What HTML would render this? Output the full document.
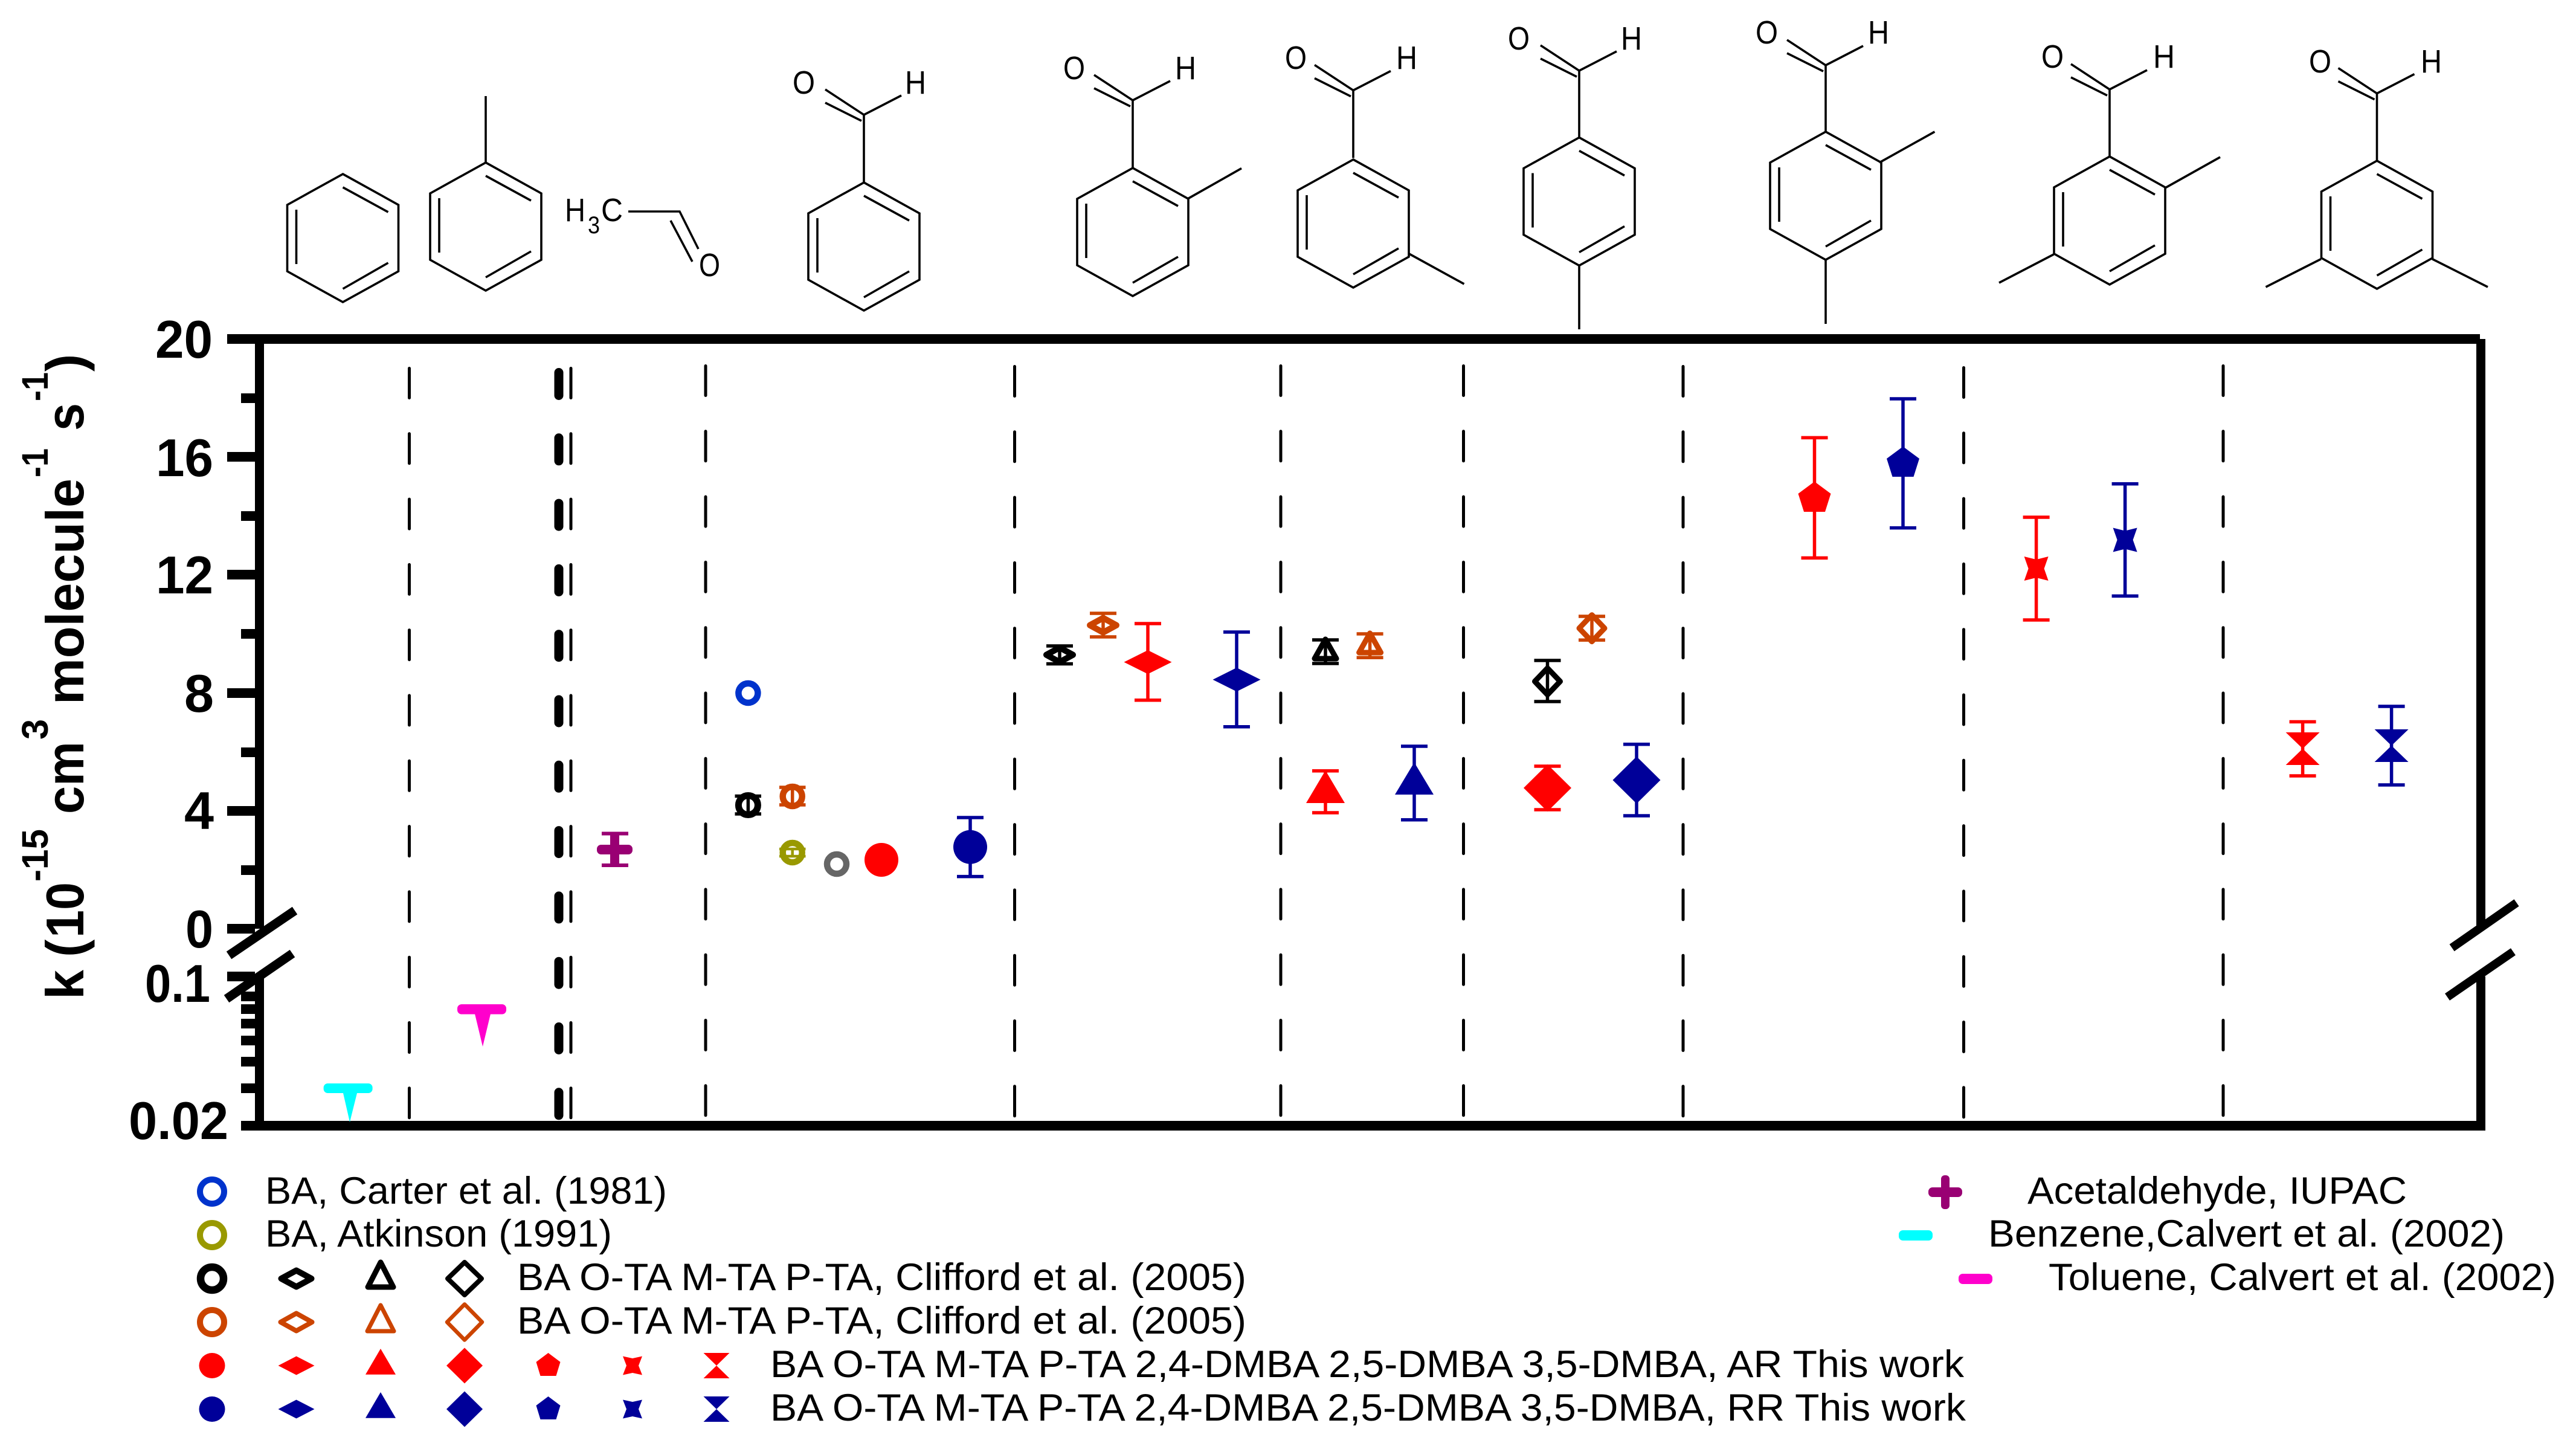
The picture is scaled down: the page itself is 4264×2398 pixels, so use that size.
<!DOCTYPE html>
<html><head><meta charset="utf-8"><title>Rate constants</title>
<style>
html,body{margin:0;padding:0;background:#fff}
svg{display:block}
text{font-family:"Liberation Sans",Arial,sans-serif;fill:#000}
.b{font-weight:bold;font-size:88px}
.s{font-weight:bold;font-size:61px}
.l{font-size:63px}
.a{font-size:54px}
.m{fill:none;stroke:#000;stroke-width:3.6}
.d{stroke:#000;stroke-width:5;stroke-dasharray:49 59.3;stroke-linecap:round}
.eb{fill:none;stroke-width:5.5}
</style></head><body>
<svg xmlns="http://www.w3.org/2000/svg" width="4264" height="2398" viewBox="0 0 4264 2398">
<defs>
<g id="ring" class="m"><path d="M0 0L92 51V161L0 212L-92 161V51Z"/><path d="M0 22L75 63M-77 59V149M0 190L75 147"/></g>
<g id="cho" class="m"><path d="M0 0V112M-64 -42L0 0M-64 -20L-4 10M0 0L62 -32"/></g>
<polygon id="star" points="-20,-20 0,-15 20,-20 13,0 20,20 0,15 -20,20 -13,0"/>
<polygon id="hour" points="-28,-27 28,-27 0,0 28,27 -28,27 0,0"/>
<polygon id="pent" points="0,-25 27,-5 17.5,25 -17.5,25 -27,-5"/>
<g id="filledrow">
<ellipse cx="351" cy="0" rx="21.5" ry="21"/>
<polygon points="460.5,0 490.5,-15.5 520.5,0 490.5,15.5"/>
<polygon points="630,-28 655,14.7 605,14.7"/>
<polygon points="739,0 769,-29.5 799,0 769,29.5"/>
<polygon points="907.5,-21 927.5,-6 920.5,17 894.5,17 887.5,-6"/>
<polygon points="1031,-15.5 1047,-12 1063,-15.5 1057,0 1063,15.5 1047,12 1031,15.5 1037,0"/>
<polygon points="1164.5,-21 1207.5,-21 1186,0 1207.5,21 1164.5,21 1186,0"/>
</g>
</defs>

<!-- molecules -->
<use href="#ring" x="567.5" y="288"/>
<use href="#ring" x="804" y="269"/><path class="m" d="M804 269V159"/>
<text class="a" x="935" y="366" textLength="34" lengthAdjust="spacingAndGlyphs">H</text>
<text x="973" y="386" font-size="40" textLength="20" lengthAdjust="spacingAndGlyphs">3</text>
<text class="a" x="995" y="366" textLength="36" lengthAdjust="spacingAndGlyphs">C</text>
<path class="m" d="M1040 350H1125L1156 412M1110 365L1146 433"/>
<text class="a" x="1157" y="457" textLength="35" lengthAdjust="spacingAndGlyphs">O</text>

<use href="#cho" x="1430" y="190"/><use href="#ring" x="1430" y="302"/>
<text class="a" x="1312" y="155" textLength="37" lengthAdjust="spacingAndGlyphs">O</text>
<text class="a" x="1498" y="155" textLength="35" lengthAdjust="spacingAndGlyphs">H</text>

<use href="#cho" x="1875" y="166"/><use href="#ring" x="1875" y="278"/>
<path class="m" d="M1966 329L2055 278.6"/>
<text class="a" x="1760" y="131" textLength="36" lengthAdjust="spacingAndGlyphs">O</text>
<text class="a" x="1945" y="131" textLength="35" lengthAdjust="spacingAndGlyphs">H</text>

<use href="#cho" x="2240" y="149.5"/><use href="#ring" x="2240" y="264"/>
<path class="m" d="M2332.5 420L2423.5 470"/>
<text class="a" x="2127" y="114" textLength="36" lengthAdjust="spacingAndGlyphs">O</text>
<text class="a" x="2311" y="114" textLength="35" lengthAdjust="spacingAndGlyphs">H</text>

<use href="#cho" x="2614" y="117"/><use href="#ring" x="2614" y="227.5"/>
<path class="m" d="M2614 439V545"/>
<text class="a" x="2496" y="82" textLength="36" lengthAdjust="spacingAndGlyphs">O</text>
<text class="a" x="2683" y="82" textLength="35" lengthAdjust="spacingAndGlyphs">H</text>

<use href="#cho" x="3022" y="108"/><use href="#ring" x="3022" y="218"/>
<path class="m" d="M3111 269L3202.4 218M3022 428.6V536"/>
<text class="a" x="2906" y="72" textLength="37" lengthAdjust="spacingAndGlyphs">O</text>
<text class="a" x="3092" y="72" textLength="35" lengthAdjust="spacingAndGlyphs">H</text>

<use href="#cho" x="3492" y="148"/><use href="#ring" x="3492" y="259"/>
<path class="m" d="M3584 311L3675 260M3399.4 421L3309 468"/>
<text class="a" x="3379" y="112" textLength="37" lengthAdjust="spacingAndGlyphs">O</text>
<text class="a" x="3564" y="112" textLength="36" lengthAdjust="spacingAndGlyphs">H</text>

<use href="#cho" x="3934.5" y="154.6"/><use href="#ring" x="3934.5" y="266"/>
<path class="m" d="M4026 428.6L4118 475M3842 428.6L3750.5 475"/>
<text class="a" x="3822" y="120" textLength="37" lengthAdjust="spacingAndGlyphs">O</text>
<text class="a" x="4007" y="120" textLength="35" lengthAdjust="spacingAndGlyphs">H</text>

<!-- dashed separators -->
<g fill="none">
<path class="d" d="M677.5 609.5V1860"/>
<path class="d" style="stroke-width:15;stroke-dasharray:38 70.3" d="M925 616.5V1860"/>
<path class="d" d="M945 609.5V1860"/>
<path class="d" d="M1168 605.5V1860"/>
<path class="d" d="M1679.5 606.5V1860"/>
<path class="d" d="M2120 605.5V1860"/>
<path class="d" d="M2422.5 605.5V1860"/>
<path class="d" d="M2786 606.5V1860"/>
<path class="d" d="M3250.5 608.5V1860"/>
<path class="d" d="M3680 605.5V1860"/>
</g>

<!-- frame -->
<rect x="376" y="553" width="3729" height="16"/>
<rect x="399" y="1855" width="3706" height="16"/>
<rect x="422" y="561" width="15" height="976"/>
<rect x="422" y="1616" width="15" height="255"/>
<rect x="4099" y="561" width="15" height="972"/>
<rect x="4099" y="1616" width="15" height="255"/>
<!-- ticks -->
<g>
<rect x="376" y="748" width="46" height="16"/>
<rect x="376" y="943" width="46" height="16"/>
<rect x="376" y="1139" width="46" height="16"/>
<rect x="376" y="1334" width="46" height="16"/>
<rect x="376" y="1529" width="46" height="16"/>
<rect x="376" y="1608" width="46" height="16"/>
<rect x="399" y="651" width="23" height="16"/>
<rect x="399" y="846" width="23" height="16"/>
<rect x="399" y="1041" width="23" height="16"/>
<rect x="399" y="1237" width="23" height="16"/>
<rect x="399" y="1432" width="23" height="16"/>
<rect x="399" y="1641" width="23" height="16"/>
<rect x="399" y="1662" width="23" height="16"/>
<rect x="399" y="1686" width="23" height="16"/>
<rect x="399" y="1714" width="23" height="16"/>
<rect x="399" y="1749" width="23" height="16"/>
<rect x="399" y="1793" width="23" height="16"/>
</g>
<!-- breaks -->
<path d="M379 1581L488 1507M375 1653L484 1578" stroke="#000" stroke-width="15" fill="none"/>
<path d="M4058.6 1568.5L4165.6 1494M4051 1650L4160 1575" stroke="#000" stroke-width="14" fill="none"/>

<!-- tick labels -->
<g class="b">
<text class="b" x="257" y="592" textLength="95" lengthAdjust="spacingAndGlyphs">20</text>
<text class="b" x="258" y="788" textLength="95" lengthAdjust="spacingAndGlyphs">16</text>
<text class="b" x="258" y="982" textLength="95" lengthAdjust="spacingAndGlyphs">12</text>
<text class="b" x="305" y="1178" textLength="49" lengthAdjust="spacingAndGlyphs">8</text>
<text class="b" x="305" y="1372" textLength="49" lengthAdjust="spacingAndGlyphs">4</text>
<text class="b" x="307" y="1568" textLength="46" lengthAdjust="spacingAndGlyphs">0</text>
<text class="b" x="240" y="1658" textLength="108" lengthAdjust="spacingAndGlyphs">0.1</text>
<text class="b" x="213" y="1885" textLength="165" lengthAdjust="spacingAndGlyphs">0.02</text>
</g>

<!-- y title -->
<g transform="translate(138 1650) rotate(-90)">
<text class="b" x="-4" y="0">k</text>
<text class="b" x="66" y="0">(</text>
<text class="b" x="98" y="0" textLength="92" lengthAdjust="spacingAndGlyphs">10</text>
<text class="s" x="191" y="-59" textLength="87" lengthAdjust="spacingAndGlyphs">-15</text>
<text class="b" x="303" y="0" textLength="120" lengthAdjust="spacingAndGlyphs">cm</text>
<text class="s" x="426" y="-59" textLength="34" lengthAdjust="spacingAndGlyphs">3</text>
<text class="b" x="484" y="0" textLength="374" lengthAdjust="spacingAndGlyphs">molecule</text>
<text class="s" x="860" y="-59" textLength="48" lengthAdjust="spacingAndGlyphs">-1</text>
<text class="b" x="937" y="0" textLength="46" lengthAdjust="spacingAndGlyphs">s</text>
<text class="s" x="986" y="-59" textLength="48" lengthAdjust="spacingAndGlyphs">-1</text>
<text class="b" x="1035" y="0">)</text>
</g>

<!-- benzene / toluene -->
<g fill="#00ffff"><rect x="535.6" y="1793" width="81" height="16" rx="7"/><polygon points="568,1809 591,1809 579,1857"/></g>
<g fill="#ff00cc"><rect x="757" y="1662" width="81" height="16.5" rx="7"/><polygon points="786,1678 812,1678 799,1732"/></g>
<!-- acetaldehyde -->
<g fill="#990073">
<rect x="988" y="1398" width="59" height="16" rx="7"/>
<rect x="1010" y="1379" width="15" height="53"/>
<rect x="996" y="1376.5" width="44" height="6"/><rect x="996" y="1429" width="44" height="6"/>
</g>

<!-- BA -->
<circle cx="1238.4" cy="1147" r="16" fill="none" stroke="#0033cc" stroke-width="10.5"/>
<g stroke="#000"><circle cx="1238.4" cy="1332.5" r="16" fill="none" stroke-width="11"/><path class="eb" d="M1216.5 1317.5H1260M1216.5 1347H1260M1238.4 1317.5V1347"/></g>
<g stroke="#cc4400"><circle cx="1311.7" cy="1318" r="16" fill="none" stroke-width="10.5"/><path class="eb" d="M1290 1303H1333.5M1290 1332H1333.5M1311.7 1303V1332"/></g>
<g stroke="#999900"><circle cx="1311.7" cy="1411" r="16" fill="none" stroke-width="10.5"/><path class="eb" style="stroke-width:4.5" d="M1290 1405H1333.5M1290 1417H1333.5M1311.7 1405V1417"/></g>
<circle cx="1385" cy="1430" r="16" fill="none" stroke="#666666" stroke-width="10.5"/>
<circle cx="1459" cy="1423" r="28" fill="#ff0000"/>
<g fill="#000099" stroke="#000099"><path class="eb" d="M1584 1353H1628M1584 1450.6H1628M1606 1353V1450.6"/><circle cx="1606" cy="1401.7" r="28" stroke="none"/></g>

<!-- O-TA -->
<g stroke="#000"><path d="M1732 1083.7L1754 1071.7L1776 1083.7L1754 1095.7Z" fill="none" stroke-width="10" stroke-linejoin="round"/><path class="eb" d="M1732 1069H1776M1732 1098.6H1776M1754 1069V1098.6"/></g>
<g stroke="#cc4400"><path d="M1804 1034.7L1826 1022.7L1848 1034.7L1826 1046.7Z" fill="none" stroke-width="10" stroke-linejoin="round"/><path class="eb" d="M1804 1015H1848M1804 1054H1848M1826 1015V1054"/></g>
<g stroke="#ff0000" fill="#ff0000"><path class="eb" d="M1878 1032H1922M1878 1158.7H1922M1900 1032V1158.7"/><polygon stroke="none" points="1860.5,1095.7 1900,1076 1939.5,1095.7 1900,1115.5"/></g>
<g stroke="#000099" fill="#000099"><path class="eb" d="M2025 1046H2069M2025 1202.7H2069M2047 1046V1202.7"/><polygon stroke="none" points="2007.5,1124.7 2047,1105 2086.5,1124.7 2047,1144.5"/></g>

<!-- M-TA -->
<g stroke="#000"><path d="M2194 1058L2212 1090H2176Z" fill="none" stroke-width="9" stroke-linejoin="round"/><path class="eb" d="M2172 1059H2216M2172 1098H2216M2194 1059V1098"/></g>
<g stroke="#cc4400"><path d="M2267.6 1048L2285.6 1080H2249.6Z" fill="none" stroke-width="9" stroke-linejoin="round"/><path class="eb" d="M2245.6 1049H2289.6M2245.6 1088.3H2289.6M2267.6 1049V1088.3"/></g>
<g stroke="#ff0000" fill="#ff0000"><path class="eb" d="M2172 1275.7H2216M2172 1345H2216M2194 1275.7V1345"/><polygon stroke="none" points="2194,1275 2226,1329 2162,1329"/></g>
<g stroke="#000099" fill="#000099"><path class="eb" d="M2319 1235H2363M2319 1356.7H2363M2341 1235V1356.7"/><polygon stroke="none" points="2341,1261.7 2373,1315 2309,1315"/></g>

<!-- P-TA -->
<g stroke="#000"><path d="M2561.5 1105.7L2582.5 1127.7L2561.5 1149.7L2540.5 1127.7Z" fill="none" stroke-width="9" stroke-linejoin="round"/><path class="eb" d="M2539.5 1093H2583.5M2539.5 1161H2583.5M2561.5 1093V1161"/></g>
<g stroke="#cc4400"><path d="M2635 1017.7L2656 1039.7L2635 1061.7L2614 1039.7Z" fill="none" stroke-width="9" stroke-linejoin="round"/><path class="eb" d="M2613 1020H2657M2613 1059.3H2657M2635 1020V1059.3"/></g>
<g stroke="#ff0000" fill="#ff0000"><path class="eb" d="M2539.5 1268H2583.5M2539.5 1340H2583.5M2561.5 1268V1340"/><polygon stroke="none" points="2522,1304 2561.5,1265 2601,1304 2561.5,1343"/></g>
<g stroke="#000099" fill="#000099"><path class="eb" d="M2687 1231.7H2731M2687 1350H2731M2709 1231.7V1350"/><polygon stroke="none" points="2669.5,1291 2709,1252 2748.5,1291 2709,1330"/></g>

<!-- 2,4-DMBA -->
<g stroke="#ff0000" fill="#ff0000"><path class="eb" d="M2981.5 724.4H3025.5M2981.5 923.4H3025.5M3003.5 724.4V923.4"/><use href="#pent" x="3003.5" y="822" stroke="none"/></g>
<g stroke="#000099" fill="#000099"><path class="eb" d="M3128 660H3172M3128 873.6H3172M3150 660V873.6"/><use href="#pent" x="3150" y="764" stroke="none"/></g>
<!-- 2,5-DMBA -->
<g stroke="#ff0000" fill="#ff0000"><path class="eb" d="M3348.6 856H3392.6M3348.6 1026H3392.6M3370.6 856V1026"/><use href="#star" x="3370.6" y="941" stroke="none"/></g>
<g stroke="#000099" fill="#000099"><path class="eb" d="M3495.6 800.7H3539.6M3495.6 986.4H3539.6M3517.6 800.7V986.4"/><use href="#star" x="3517.6" y="893.5" stroke="none"/></g>
<!-- 3,5-DMBA -->
<g stroke="#ff0000" fill="#ff0000"><path class="eb" d="M3789.6 1194.5H3833.6M3789.6 1284H3833.6M3811.6 1194.5V1284"/><use href="#hour" x="3811.6" y="1239" stroke="none"/></g>
<g stroke="#000099" fill="#000099"><path class="eb" d="M3936.6 1169H3980.6M3936.6 1299H3980.6M3958.6 1169V1299"/><use href="#hour" x="3958.6" y="1234" stroke="none"/></g>

<!-- legend markers -->
<circle cx="351" cy="1972" r="20" fill="none" stroke="#0033cc" stroke-width="10"/>
<circle cx="351" cy="2044" r="20" fill="none" stroke="#999900" stroke-width="10"/>

<g fill="none" stroke="#000" stroke-linejoin="round" transform="translate(0 2116)">
<circle cx="351" cy="0" r="19" stroke-width="12.5"/>
<path d="M465.5 0L490.5 -13.5L515.5 0L490.5 13.5Z" stroke-width="10"/>
<path d="M630 -27L651 14H609Z" stroke-width="9"/>
<path d="M741 0L769 -27L797 0L769 27Z" stroke-width="8"/>
</g>
<g fill="none" stroke="#cc4400" stroke-linejoin="round" transform="translate(0 2188)">
<circle cx="351" cy="0" r="20" stroke-width="10"/>
<path d="M464.5 0L490.5 -14.5L516.5 0L490.5 14.5Z" stroke-width="8"/>
<path d="M630 -28L652 15H608Z" stroke-width="7"/>
<path d="M740 0L769 -29.5L798 0L769 29.5Z" stroke-width="6.5"/>
</g>
<use href="#filledrow" y="2260" fill="#ff0000"/>
<use href="#filledrow" y="2332" fill="#000099"/>
<g fill="#990073"><rect x="3192" y="1965" width="56" height="16" rx="7"/><rect x="3213" y="1945" width="14" height="56" rx="6"/></g>
<rect x="3143" y="2036" width="56" height="17" rx="7" fill="#00ffff"/>
<rect x="3242" y="2108" width="56" height="17" rx="7" fill="#ff00cc"/>

<!-- legend text -->
<text class="l" x="439" y="1992" textLength="665" lengthAdjust="spacingAndGlyphs">BA, Carter et al. (1981)</text>
<text class="l" x="439" y="2063" textLength="574" lengthAdjust="spacingAndGlyphs">BA, Atkinson (1991)</text>
<text class="l" x="856" y="2135" textLength="1207" lengthAdjust="spacingAndGlyphs">BA O-TA M-TA P-TA, Clifford et al. (2005)</text>
<text class="l" x="856" y="2207" textLength="1207" lengthAdjust="spacingAndGlyphs">BA O-TA M-TA P-TA, Clifford et al. (2005)</text>
<text class="l" x="1275" y="2279" textLength="1976" lengthAdjust="spacingAndGlyphs">BA O-TA M-TA P-TA 2,4-DMBA 2,5-DMBA 3,5-DMBA, AR This work</text>
<text class="l" x="1275" y="2351" textLength="1979" lengthAdjust="spacingAndGlyphs">BA O-TA M-TA P-TA 2,4-DMBA 2,5-DMBA 3,5-DMBA, RR This work</text>
<text class="l" x="3356" y="1992" textLength="628" lengthAdjust="spacingAndGlyphs">Acetaldehyde, IUPAC</text>
<text class="l" x="3291" y="2063" textLength="855" lengthAdjust="spacingAndGlyphs">Benzene,Calvert et al. (2002)</text>
<text class="l" x="3391" y="2135" textLength="840" lengthAdjust="spacingAndGlyphs">Toluene, Calvert et al. (2002)</text>
</svg>
</body></html>
